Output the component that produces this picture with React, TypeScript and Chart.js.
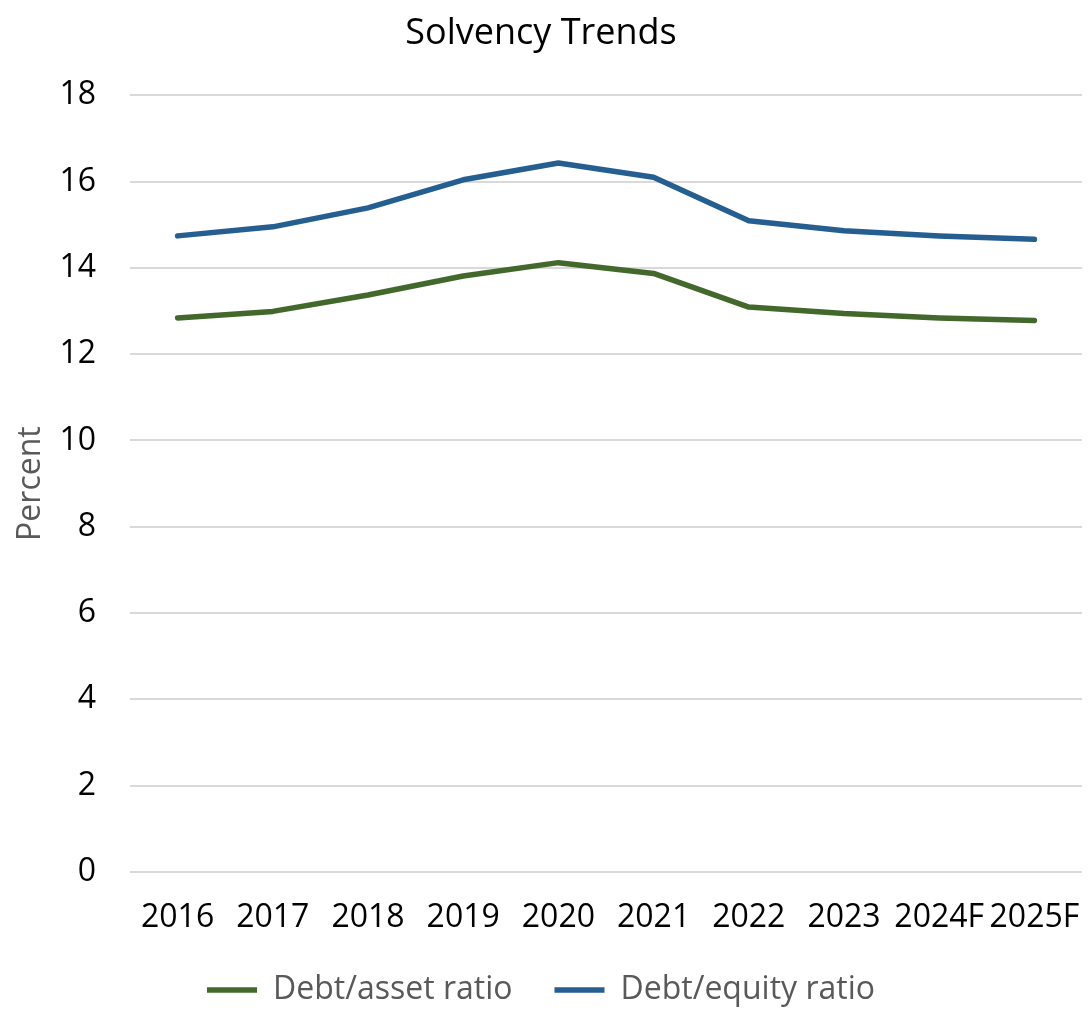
import React, { useEffect, useRef } from 'react';
import { Chart, registerables } from 'chart.js';

Chart.register(...registerables);

const categories = ['2016', '2017', '2018', '2019', '2020', '2021', '2022', '2023', '2024F', '2025F'];
const debtAssetRatio = [12.84, 12.99, 13.37, 13.81, 14.12, 13.87, 13.09, 12.94, 12.84, 12.78];
const debtEquityRatio = [14.74, 14.95, 15.39, 16.04, 16.43, 16.1, 15.09, 14.86, 14.74, 14.66];
const seriesNames = ['Debt/asset ratio', 'Debt/equity ratio'];
const yMin = 0;
const yMax = 18;
const yStep = 2;

const GREEN = '#43682B';
const BLUE = '#255E91';
const FONT = "'Open Sans', sans-serif";

export default function App() {
  const ref = useRef<HTMLCanvasElement | null>(null);

  useEffect(() => {
    document.body.style.margin = '0';
    const canvas = ref.current;
    if (!canvas) return;
    const chart = new Chart(canvas, {
      type: 'line',
      data: {
        labels: categories,
        datasets: [
          {
            label: seriesNames[0],
            data: debtAssetRatio,
            borderColor: GREEN,
            backgroundColor: GREEN,
            borderWidth: 5.5,
            borderCapStyle: 'round',
            borderJoinStyle: 'round',
            pointRadius: 0,
            pointHoverRadius: 0,
            tension: 0,
            fill: false,
          },
          {
            label: seriesNames[1],
            data: debtEquityRatio,
            borderColor: BLUE,
            backgroundColor: BLUE,
            borderWidth: 5.5,
            borderCapStyle: 'round',
            borderJoinStyle: 'round',
            pointRadius: 0,
            pointHoverRadius: 0,
            tension: 0,
            fill: false,
          },
        ],
      },
      options: {
        responsive: false,
        animation: false,
        devicePixelRatio: 1,
        layout: { padding: { left: 0, right: 7, top: 0, bottom: 0 } },
        font: { family: FONT },
        plugins: {
          title: {
            display: true,
            text: 'Solvency Trends',
            color: '#000000',
            font: { family: FONT, size: 36, weight: 'normal' },
            padding: { top: 12, bottom: 40 },
          },
          legend: {
            display: true,
            position: 'bottom',
            maxHeight: 77,
            labels: {
              usePointStyle: true,
              pointStyle: 'line',
              pointStyleWidth: 50,
              padding: 42,
              color: '#595959',
              font: { family: FONT, size: 32 },
            },
          },
          tooltip: { enabled: false },
        },
        scales: {
          x: {
            offset: true,
            grid: { display: false, drawTicks: false },
            border: { display: false },
            ticks: {
              color: '#000000',
              font: { family: FONT, size: 32 },
              padding: 27,
              maxRotation: 0,
              autoSkip: false,
            },
            afterFit: (scale: any) => {
              scale.height = 60;
              scale.paddingLeft = 0;
              scale.paddingRight = 0;
            },
          },
          y: {
            min: yMin,
            max: yMax,
            grid: { color: '#d9d9d9', lineWidth: 2, drawTicks: false },
            border: { display: false },
            ticks: {
              stepSize: yStep,
              color: '#000000',
              font: { family: FONT, size: 32 },
              padding: 34,
            },
            title: {
              display: true,
              text: 'Percent',
              color: '#595959',
              font: { family: FONT, size: 32 },
              padding: { top: 12, bottom: 0 },
            },
            afterFit: (scale: any) => {
              scale.width = 130;
            },
          },
        },
      },
    });
    return () => chart.destroy();
  }, []);

  return (
    <div style={{ width: 1089, height: 1009, background: '#ffffff' }}>
      <canvas ref={ref} width={1089} height={1009} style={{ display: 'block', width: 1089, height: 1009 }} />
    </div>
  );
}
